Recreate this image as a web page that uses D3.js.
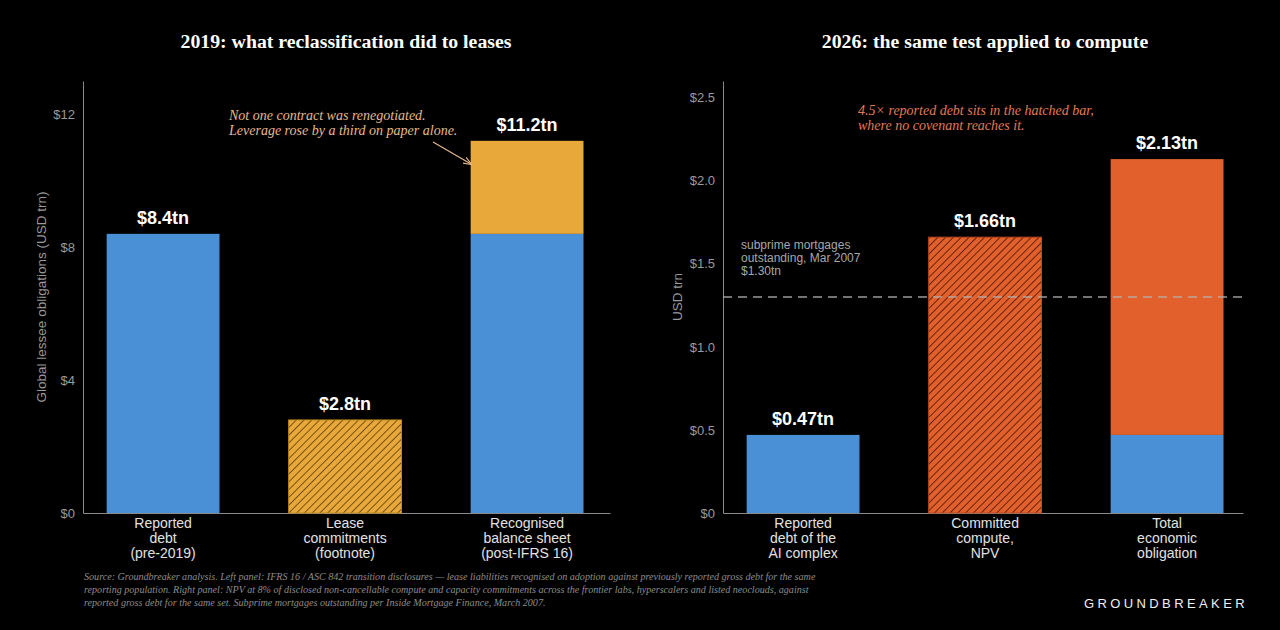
<!DOCTYPE html>
<html>
<head>
<meta charset="utf-8">
<script src="https://cdn.jsdelivr.net/npm/d3@7"></script>
<style>
  body { margin: 0; background: #000; }
  svg { display: block; }
</style>
</head>
<body>
<div id="chart"></div>
<script>
const W = 1280, H = 630;

// left panel data (USD trn)
const leftCats = [["Reported", "debt", "(pre-2019)"], ["Lease", "commitments", "(footnote)"], ["Recognised", "balance sheet", "(post-IFRS 16)"]];
const leftDebt = [8.4, 0, 8.4];
const leftLease = [0, 2.8, 2.8];
const leftHatched = [false, true, false];
const leftLabels = ["$8.4tn", "$2.8tn", "$11.2tn"];
const leftTicks = [0, 4, 8, 12];

// right panel data (USD trn)
const rightCats = [["Reported", "debt of the", "AI complex"], ["Committed", "compute,", "NPV"], ["Total", "economic", "obligation"]];
const rightDebt = [0.47, 0, 0.47];
const rightCompute = [0, 1.66, 1.66];
const rightHatched = [false, true, false];
const rightLabels = ["$0.47tn", "$1.66tn", "$2.13tn"];
const rightTicks = [0, 0.5, 1.0, 1.5, 2.0, 2.5];
const subprime = 1.30;

const sourceLines = [
  "Source: Groundbreaker analysis. Left panel: IFRS 16 / ASC 842 transition disclosures \u2014 lease liabilities recognised on adoption against previously reported gross debt for the same",
  "reporting population. Right panel: NPV at 8% of disclosed non-cancellable compute and capacity commitments across the frontier labs, hyperscalers and listed neoclouds, against",
  "reported gross debt for the same set. Subprime mortgages outstanding per Inside Mortgage Finance, March 2007."
];

const BLUE = "#4a90d6", AMBER = "#e8a93a", RED = "#e2602c";
const SANS = "'Liberation Sans', Arial, sans-serif";
const SERIF = "'Liberation Serif', 'Times New Roman', serif";

const svg = d3.select("#chart").append("svg")
  .attr("width", W).attr("height", H)
  .style("background", "#000");

const defs = svg.append("defs");
function hatch(id, fill, line) {
  const p = defs.append("pattern")
    .attr("id", id)
    .attr("patternUnits", "userSpaceOnUse")
    .attr("width", 5.5).attr("height", 5.5)
    .attr("patternTransform", "rotate(45)");
  p.append("rect").attr("width", 5.5).attr("height", 5.5).attr("fill", fill);
  p.append("line").attr("x1", 0).attr("y1", 0).attr("x2", 0).attr("y2", 5.5)
    .attr("stroke", line).attr("stroke-width", 1.6);
}
hatch("hatchAmber", AMBER, "#5c3c06");
hatch("hatchRed", RED, "#4a1504");

defs.append("marker")
  .attr("id", "arrow").attr("viewBox", "0 0 10 10")
  .attr("refX", 9).attr("refY", 5)
  .attr("markerWidth", 7).attr("markerHeight", 7)
  .attr("orient", "auto")
  .append("path").attr("d", "M0,1 L10,5 L0,9").attr("fill", "none")
  .attr("stroke", "#e6b98c").attr("stroke-width", 1.3);

function panel(opt) {
  // one category per unit, 182px per unit
  const x = d3.scaleLinear().domain([-0.44, -0.44 + (opt.x1 - opt.x0) / 182]).range([opt.x0, opt.x1]);
  const y = d3.scaleLinear().domain([0, opt.ymax]).range([513, 81]);
  const bw = x(0.62) - x(0);
  const g = svg.append("g");

  // axes
  const yAxis = g.append("g").attr("transform", `translate(${opt.x0},0)`)
    .call(d3.axisLeft(y).tickValues(opt.ticks).tickSize(0).tickPadding(8).tickFormat(opt.fmt));
  yAxis.select(".domain").attr("stroke", "#8a8a8a");
  yAxis.selectAll("text").attr("fill", "#9a9a9a").style("font", `13px ${SANS}`);

  const xAxis = g.append("g").attr("transform", "translate(0,513)")
    .call(d3.axisBottom(x).tickValues([]).tickSize(0));
  xAxis.select(".domain").attr("stroke", "#8a8a8a");

  // base (debt) segments
  g.selectAll(".base").data(opt.base).join("rect")
    .attr("x", (d, i) => x(i) - bw / 2)
    .attr("width", bw)
    .attr("y", d => y(d))
    .attr("height", d => y(0) - y(d))
    .attr("fill", BLUE);

  // top segments
  g.selectAll(".top").data(opt.top).join("rect")
    .attr("x", (d, i) => x(i) - bw / 2)
    .attr("width", bw)
    .attr("y", (d, i) => y(opt.base[i] + d))
    .attr("height", d => y(0) - y(d))
    .attr("fill", (d, i) => opt.hatched[i] ? `url(#${opt.hatchId})` : opt.color)
    .attr("stroke", (d, i) => opt.hatched[i] ? opt.edge : "none")
    .attr("stroke-width", 1);

  // value labels
  g.selectAll(".val").data(opt.labels).join("text")
    .attr("x", (d, i) => x(i))
    .attr("y", (d, i) => y(opt.base[i] + opt.top[i]) - 10)
    .attr("text-anchor", "middle")
    .attr("fill", "#fff")
    .style("font", `bold 18px ${SANS}`)
    .text(d => d);

  // category labels
  opt.cats.forEach((lines, i) => {
    const t = g.append("text").attr("text-anchor", "middle")
      .attr("fill", "#e2e2e2").style("font", `14px ${SANS}`);
    lines.forEach((l, j) => t.append("tspan").attr("x", x(i)).attr("y", 528 + j * 15).text(l));
  });

  // title
  g.append("text").attr("x", opt.tx).attr("y", 48)
    .attr("text-anchor", "middle").attr("fill", "#fff")
    .style("font", `bold 19.8px ${SERIF}`).text(opt.title);

  // y label
  g.append("text")
    .attr("transform", `translate(${opt.ylx},${opt.yly}) rotate(-90)`)
    .attr("text-anchor", "middle").attr("fill", "#9a9a9a")
    .style("font", `13.5px ${SANS}`).text(opt.ylabel);

  return { g, x, y };
}

panel({
  x0: 83, x1: 610, ymax: 13, ticks: leftTicks, fmt: d => "$" + d,
  base: leftDebt, top: leftLease, hatched: leftHatched, labels: leftLabels,
  color: AMBER, hatchId: "hatchAmber", edge: "#c08a22",
  cats: leftCats, title: "2019: what reclassification did to leases", tx: 346,
  ylabel: "Global lessee obligations (USD trn)", ylx: 46, yly: 297
});

const R = panel({
  x0: 723, x1: 1243, ymax: 2.6, ticks: rightTicks, fmt: d => d === 0 ? "$0" : "$" + d3.format(".1f")(d),
  base: rightDebt, top: rightCompute, hatched: rightHatched, labels: rightLabels,
  color: RED, hatchId: "hatchRed", edge: "#b84a20",
  cats: rightCats, title: "2026: the same test applied to compute", tx: 985,
  ylabel: "USD trn", ylx: 682, yly: 297
});

// subprime reference line
R.g.append("line")
  .attr("x1", 723).attr("x2", 1243)
  .attr("y1", R.y(subprime)).attr("y2", R.y(subprime))
  .attr("stroke", "#b4b4b4").attr("stroke-opacity", 0.85)
  .attr("stroke-width", 1.3).attr("stroke-dasharray", "9,6");
const sp = R.g.append("text").attr("fill", "#a8a8a8").style("font", `12px ${SANS}`);
["subprime mortgages", "outstanding, Mar 2007", "$1.30tn"].forEach((l, j) =>
  sp.append("tspan").attr("x", 741).attr("y", 249 + j * 13).text(l));

// annotations
const a1 = svg.append("text").attr("fill", "#e6b98c").style("font", `italic 14px ${SERIF}`);
["Not one contract was renegotiated.", "Leverage rose by a third on paper alone."].forEach((l, j) =>
  a1.append("tspan").attr("x", 229).attr("y", 120 + j * 15).text(l));
svg.append("line").attr("x1", 433).attr("y1", 142).attr("x2", 471).attr("y2", 164)
  .attr("stroke", "#e6b98c").attr("stroke-width", 1.2).attr("marker-end", "url(#arrow)");

const a2 = svg.append("text").attr("fill", "#e07a55").style("font", `italic 14px ${SERIF}`);
["4.5\u00d7 reported debt sits in the hatched bar,", "where no covenant reaches it."].forEach((l, j) =>
  a2.append("tspan").attr("x", 858).attr("y", 115 + j * 15).text(l));

// source
const src = svg.append("text").attr("fill", "#8c8c8c").style("font", `italic 10.1px ${SERIF}`);
sourceLines.forEach((l, j) => src.append("tspan").attr("x", 84).attr("y", 580 + j * 13).text(l));

// brand
svg.append("text").attr("x", 1248).attr("y", 608).attr("text-anchor", "end")
  .attr("fill", "#f0f0f0").style("font", `13px ${SANS}`)
  .style("letter-spacing", "3.4px").text("GROUNDBREAKER");
</script>
</body>
</html>
